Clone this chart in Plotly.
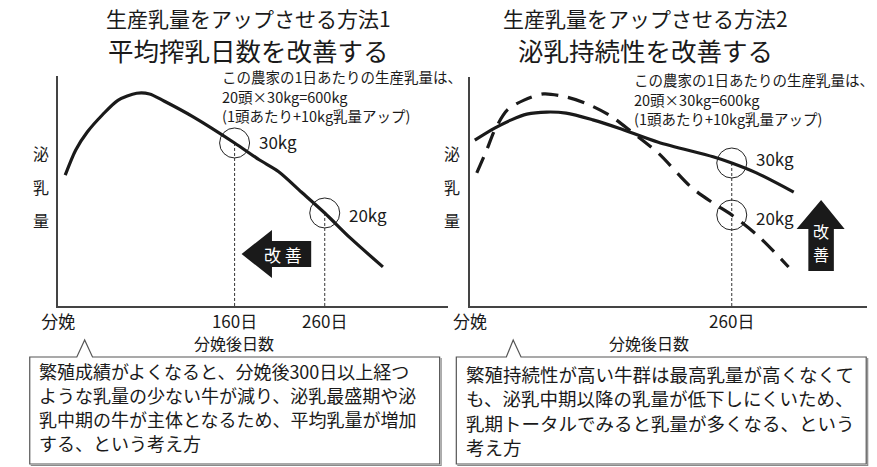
import plotly.graph_objects as go

W, H = 877, 467
FONT = '"Noto Sans CJK JP", "Noto Sans", sans-serif'
INK = "#1a1a1a"

# ---- data -------------------------------------------------------------
# horizontal position along the lactation axis (0 = calving, 100 = axis end)
# and daily milk yield (kg)

# panel 1: lactation curve
curve1_pos = [1.8, 4.5, 7.5, 11.3, 15.3, 20.1, 23.4, 27.1, 34.7, 45.2, 51.5, 56.5, 62.3, 68.3, 74.9, 83.2]
curve1_kg = [25.4, 29.0, 31.6, 34.0, 36.1, 37.1, 37.0, 36.0, 33.7, 30.0, 27.6, 25.9, 23.0, 20.0, 16.4, 12.3]

panel1_tick_pos = [0, 45.2, 68.3]
panel1_tick_text = ["分娩", "160日", "260日"]
panel1_point_pos = [45.2, 68.3]
panel1_point_kg = [30, 20]
panel1_point_text = ["30kg", "20kg"]

# panel 2: persistent herd (solid) vs. high-peak herd (dashed)
persist_pos = [1.2, 6.2, 10.4, 14.3, 19.3, 24.2, 30.9, 37.5, 47.4, 61.2, 65.9, 72.1, 81.5]
persist_kg = [34.4, 36.7, 38.3, 39.4, 39.8, 39.6, 38.3, 36.7, 34.0, 31.2, 30.0, 28.1, 24.4]
peak_pos = [1.7, 4.2, 6.2, 9.4, 13.6, 18.5, 24.2, 29.1, 35.1, 40.7, 47.4, 55.6, 61.2, 65.9, 72.8, 80.2]
peak_kg = [28.1, 32.5, 36.3, 40.2, 42.1, 43.3, 42.7, 41.5, 39.2, 36.0, 31.9, 25.4, 22.3, 20.0, 15.8, 10.0]

panel2_tick_pos = [0, 65.9]
panel2_tick_text = ["分娩", "260日"]
panel2_point_pos = [65.9, 65.9]
panel2_point_kg = [30, 20]
panel2_point_text = ["30kg", "20kg"]

titles1 = ["生産乳量をアップさせる方法1", "平均搾乳日数を改善する"]
titles2 = ["生産乳量をアップさせる方法2", "泌乳持続性を改善する"]
note_lines = ["この農家の1日あたりの生産乳量は、", "20頭×30kg=600kg", "(1頭あたり+10kg乳量アップ)"]
y_label_chars = ["泌", "乳", "量"]
x_title = "分娩後日数"
box1_lines = [
    "繁殖成績がよくなると、分娩後300日以上経つ",
    "ような乳量の少ない牛が減り、泌乳最盛期や泌",
    "乳中期の牛が主体となるため、平均乳量が増加",
    "する、という考え方",
]
box2_lines = [
    "繁殖持続性が高い牛群は最高乳量が高くなくて",
    "も、泌乳中期以降の乳量が低下しにくいため、",
    "乳期トータルでみると乳量が多くなる、という",
    "考え方",
]

# ---- layout helpers (pixel -> paper) -----------------------------------
def px(x):
    return x / W


def py(y):
    return 1 - y / H


def path(points, close=True):
    s = "M " + " L ".join(f"{px(x):.5f},{py(y):.5f}" for x, y in points)
    return s + (" Z" if close else "")


Y1_RANGE = [6.71, 39.57]
Y2_RANGE = [2.5, 46.54]

fig = go.Figure()

# vertical guide lines from each marked point down to the axis
for xs, ys, ax, yr in [
    (panel1_point_pos, panel1_point_kg, ("x", "y"), Y1_RANGE),
    (panel2_point_pos[:1], panel2_point_kg[:1], ("x2", "y2"), Y2_RANGE),
]:
    for xv, yv in zip(xs, ys):
        fig.add_trace(go.Scatter(
            x=[xv, xv], y=[yv, yr[0]], mode="lines", xaxis=ax[0], yaxis=ax[1],
            line=dict(color="#333", width=1, dash="3px,2px"), hoverinfo="skip",
        ))

fig.add_trace(go.Scatter(
    x=curve1_pos, y=curve1_kg, mode="lines", xaxis="x", yaxis="y",
    line=dict(color=INK, width=3.2, shape="spline", smoothing=0.8),
))
fig.add_trace(go.Scatter(
    x=persist_pos, y=persist_kg, mode="lines", xaxis="x2", yaxis="y2",
    line=dict(color=INK, width=3.2, shape="spline", smoothing=0.8),
))
fig.add_trace(go.Scatter(
    x=peak_pos, y=peak_kg, mode="lines", xaxis="x2", yaxis="y2",
    line=dict(color=INK, width=3.2, shape="spline", smoothing=0.8, dash="17px,10px"),
))

for xs, ys, ax in [
    (panel1_point_pos, panel1_point_kg, ("x", "y")),
    (panel2_point_pos, panel2_point_kg, ("x2", "y2")),
]:
    fig.add_trace(go.Scatter(
        x=xs, y=ys, mode="markers", xaxis=ax[0], yaxis=ax[1],
        marker=dict(symbol="circle-open", size=30, color="#222", line=dict(width=1, color="#222")),
    ))

annotations = []


def text(x, y, s, size, **kw):
    d = dict(x=px(x), y=py(y), xref="paper", yref="paper", text=s, showarrow=False,
             font=dict(family=FONT, size=size, color=kw.pop("color", INK)),
             xanchor=kw.pop("xanchor", "center"), yanchor=kw.pop("yanchor", "middle"))
    d.update(kw)
    annotations.append(d)


def text_block(x, y_first, lines, size, step):
    for i, line in enumerate(lines):
        text(x, y_first + i * step, line, size, xanchor="left", borderpad=0)


# two-line titles (second line larger)
for cx, lines in ((236, titles1), (641, titles2)):
    text(cx, 18.5, lines[0], 21, borderpad=0)
    text(cx, 49.5, lines[1], 25.5, borderpad=0)

# yield note
text_block(208, 76.5, note_lines, 14.5, 19.5)
text_block(628, 80, note_lines, 14.5, 19.5)

# vertical axis label
for cx in (24, 444):
    for ch, cy in zip(y_label_chars, (153, 187, 220)):
        text(cx, cy, ch, 16)

# horizontal axis titles
text(221, 343, x_title, 16)
text(644, 343, x_title, 16)

# labels beside the circles
for xs, ys, labels, ax, shifts in [
    (panel1_point_pos, panel1_point_kg, panel1_point_text, ("x", "y"), (1, -2)),
    (panel2_point_pos, panel2_point_kg, panel2_point_text, ("x2", "y2"), (5, -2)),
]:
    for xv, yv, lab, ys_ in zip(xs, ys, labels, shifts):
        annotations.append(dict(
            x=xv, y=yv, xref=ax[0], yref=ax[1], text=lab, showarrow=False,
            xanchor="left", yanchor="middle", xshift=22, yshift=ys_,
            font=dict(family=FONT, size=17, color=INK),
        ))

# arrow captions
text(271, 254, "改 善", 17, color="white")
text(820, 231, "改", 16, color="white")
text(820, 254, "善", 16, color="white")

# explanation boxes
text_block(21, 371, box1_lines, 18, 23.9)
text_block(457, 374, box2_lines, 18.5, 24.3)

box_line = dict(width=1.2, color="#555")
shade_line = dict(width=1.2, color="#8a8a8a")
shapes = [
    # left-pointing arrow
    dict(type="path", xref="paper", yref="paper", line=dict(width=0), fillcolor=INK,
         path=path([(229, 254), (260, 230), (260, 241), (300, 241), (300, 267), (260, 267), (260, 278)])),
    # upward arrow
    dict(type="path", xref="paper", yref="paper", line=dict(width=0), fillcolor=INK,
         path=path([(820, 200), (844, 229), (833, 229), (833, 271), (807, 271), (807, 229), (795, 229)])),
    # callout boxes with a notch pointing up at the calving mark
    dict(type="path", xref="paper", yref="paper", line=box_line, fillcolor="white", layer="below",
         path=path([(61, 357), (13, 357), (13, 464), (431, 464), (431, 357), (77, 357), (69, 340)])),
    dict(type="path", xref="paper", yref="paper", line=shade_line, layer="below",
         path=path([(14, 465.5), (432.5, 465.5), (432.5, 358)], close=False)),
    dict(type="path", xref="paper", yref="paper", line=box_line, fillcolor="white", layer="below",
         path=path([(499, 357), (448, 357), (448, 464), (866, 464), (866, 357), (514, 357), (506, 340)])),
    dict(type="path", xref="paper", yref="paper", line=shade_line, layer="below",
         path=path([(449, 465.5), (867.5, 465.5), (867.5, 358)], close=False)),
]

axis_common = dict(showgrid=False, zeroline=False, showline=True, linecolor="#444", linewidth=1.5,
                   ticks="", fixedrange=True)

fig.update_layout(
    width=W, height=H, margin=dict(l=0, r=0, t=0, b=0),
    paper_bgcolor="white", plot_bgcolor="white", showlegend=False,
    font=dict(family=FONT, color=INK),
    xaxis=dict(domain=[px(42), px(440)], range=[0, 100], anchor="y",
               tickvals=panel1_tick_pos, ticktext=panel1_tick_text,
               tickfont=dict(family=FONT, size=17, color=INK), **axis_common),
    yaxis=dict(domain=[py(306), py(76)], range=Y1_RANGE, anchor="x",
               showticklabels=False, **axis_common),
    xaxis2=dict(domain=[px(462), px(867)], range=[0, 100], anchor="y2",
                tickvals=panel2_tick_pos, ticktext=panel2_tick_text,
                tickfont=dict(family=FONT, size=17, color=INK), **axis_common),
    yaxis2=dict(domain=[py(306), py(77)], range=Y2_RANGE, anchor="x2",
                showticklabels=False, **axis_common),
    annotations=annotations,
    shapes=shapes,
)

fig.write_html("out.html")
